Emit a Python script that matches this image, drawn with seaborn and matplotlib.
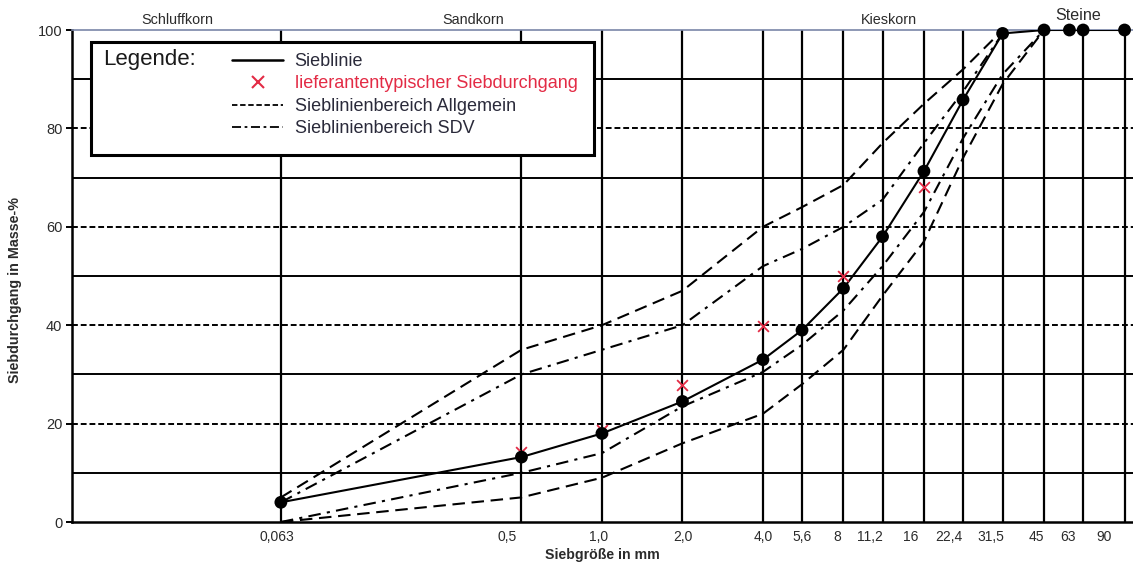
import matplotlib
matplotlib.use("Agg")
import matplotlib.pyplot as plt
import matplotlib.transforms as mtransforms
from matplotlib.lines import Line2D
from matplotlib.patches import Rectangle
import seaborn as sns
import pandas as pd

# ---------------- data ----------------
sieve_ticks = [0.063, 0.5, 1.0, 2.0, 4.0, 5.6, 8, 11.2, 16, 22.4, 31.5, 45, 63, 90]
tick_labels = ["0,063", "0,5", "1,0", "2,0", "4,0", "5,6", "8", "11,2", "16", "22,4",
               "31,5", "45", "63", "90"]

sieblinie_x = [0.063, 0.5, 1.0, 2.0, 4.0, 5.6, 8, 11.2, 16, 22.4, 31.5, 45, 56, 63, 90]
sieblinie_y = [4.0, 13.2, 18.0, 24.5, 33.0, 39.0, 47.5, 58.0, 71.3, 85.8, 99.3, 100, 100, 100, 100]

liefer_x = [0.5, 1.0, 2.0, 4.0, 8, 16]
liefer_y = [14.3, 18.7, 27.8, 39.9, 49.9, 68.0]

allg_oben_x = [0.063, 0.5, 1.0, 2.0, 4.0, 5.6, 8, 11.2, 16, 22.4, 31.5]
allg_oben_y = [5.0, 35.0, 40.0, 47.0, 60.0, 64.0, 68.5, 77.0, 85.0, 92.0, 100.0]
allg_unten_x = [0.063, 0.5, 1.0, 2.0, 4.0, 5.6, 8, 11.2, 16, 22.4, 31.5, 45]
allg_unten_y = [0.0, 5.0, 9.0, 16.0, 22.0, 28.0, 35.0, 46.0, 57.0, 74.0, 89.0, 100.0]

sdv_oben_x = [0.063, 0.5, 1.0, 2.0, 4.0, 5.6, 8, 11.2, 16, 22.4, 31.5]
sdv_oben_y = [4.0, 30.0, 35.0, 40.0, 52.0, 55.5, 60.0, 65.5, 77.0, 87.5, 99.3]
sdv_unten_x = [0.063, 0.5, 1.0, 2.0, 4.0, 5.6, 8, 11.2, 16, 22.4, 31.5, 45]
sdv_unten_y = [0.0, 10.0, 14.0, 23.5, 30.5, 36.0, 43.0, 52.0, 63.0, 78.0, 91.0, 100.0]

y_ticks = [0, 20, 40, 60, 80, 100]
grid_solid = [10, 30, 50, 70, 90]
grid_dashed = [20, 40, 60, 80]

legend_labels = ["Sieblinie", "lieferantentypischer Siebdurchgang",
                 "Sieblinienbereich Allgemein", "Sieblinienbereich SDV"]

# label shifts (pixels) to mimic the original label placement
label_shift_px = [-4, -14, -3, 0, 0, 0, -6, -13, -13, -14, -12, -8, -15, -20]

# ---------------- style ----------------
sns.set_theme(style="white")
plt.rcParams["font.family"] = ["Liberation Sans", "DejaVu Sans"]

W, H = 1133, 565
fig = plt.figure(figsize=(W / 100, H / 100), dpi=100)
ax = fig.add_axes([72 / W, (H - 522) / H, (W - 72) / W, 492 / H])

RED = "#e32b45"
TXT = "#2b2b2b"
DASH = (0, (6, 3.2))
DASHDOT = (0, (6, 3, 1.5, 3))

ax.set_xscale("log")
ax.set_xlim(0.01043, 96.8)
ax.set_ylim(0, 100)

# grid
for v in grid_solid:
    ax.axhline(v, color="black", lw=1.4, zorder=1)
for v in grid_dashed:
    ax.axhline(v, color="black", lw=1.4, ls=(0, (3, 1.5)), zorder=1)
for v in sieve_ticks:
    ax.axvline(v, color="black", lw=1.6, zorder=1)

# curves
def curve(xs, ys, ls):
    df = pd.DataFrame({"x": xs, "y": ys})
    sns.lineplot(data=df, x="x", y="y", ax=ax, color="black", lw=1.5,
                 linestyle=ls, sort=False, estimator=None, zorder=3)

curve(allg_oben_x, allg_oben_y, DASH)
curve(allg_unten_x, allg_unten_y, DASH)
curve(sdv_oben_x, sdv_oben_y, DASHDOT)
curve(sdv_unten_x, sdv_unten_y, DASHDOT)
curve(sieblinie_x, sieblinie_y, "-")

df_l = pd.DataFrame({"x": liefer_x, "y": liefer_y})
sns.scatterplot(data=df_l, x="x", y="y", ax=ax, marker="x", color=RED, s=60,
                linewidth=1.3, zorder=4)
df_s = pd.DataFrame({"x": sieblinie_x, "y": sieblinie_y})
sns.scatterplot(data=df_s, x="x", y="y", ax=ax, marker="o", color="black", s=85,
                edgecolor="none", zorder=5, clip_on=False)

# axes styling
ax.set_xlabel("")
ax.set_ylabel("")
ax.minorticks_off()
ax.set_xticks(sieve_ticks)
ax.set_xticklabels(tick_labels, fontsize=10, color=TXT)
ax.tick_params(axis="x", length=0, pad=6)
ax.set_yticks(y_ticks)
ax.set_yticklabels([str(v) for v in y_ticks], fontsize=10.5, color=TXT)
ax.tick_params(axis="y", length=4, width=1.4, color="black", pad=3, left=True)
for lab, dx in zip(ax.get_xticklabels(), label_shift_px):
    lab.set_transform(lab.get_transform() +
                      mtransforms.ScaledTranslation(dx / 100, 0, fig.dpi_scale_trans))

ax.spines["right"].set_visible(False)
ax.spines["left"].set_color("black")
ax.spines["left"].set_linewidth(1.8)
ax.spines["bottom"].set_color("black")
ax.spines["bottom"].set_linewidth(1.8)
ax.spines["top"].set_color("#7a86a8")
ax.spines["top"].set_linewidth(1.2)
ax.spines["top"].set_linestyle((0, (1, 1)))

# axis titles
fig.text(602 / W, 1 - 555 / H, "Siebgröße in mm", ha="center", va="center",
         fontsize=10.2, fontweight="bold", color=TXT)
fig.text(15 / W, 1 - 290 / H, "Siebdurchgang in Masse-%", ha="center", va="center",
         rotation=90, fontsize=10.3, fontweight="bold", color=TXT)

# fraction labels on top
for txt, px, py, fs in [("Schluffkorn", 177, 20, 10.4), ("Sandkorn", 473, 20, 10.4),
                        ("Kieskorn", 889, 20, 10.4), ("Steine", 1078, 15, 11.6)]:
    fig.text(px / W, 1 - py / H, txt, ha="center", va="center", fontsize=fs, color=TXT)

# legend box
box = Rectangle((91 / W, 1 - 155 / H), (594 - 91) / W, (155 - 42) / H,
                transform=fig.transFigure, facecolor="white", edgecolor="black",
                lw=2.2, zorder=4)
fig.add_artist(box)
fig.text(103 / W, 1 - 59 / H, "Legende:", ha="left", va="center", fontsize=16,
         color="#1a1a1a", zorder=6)

handles = [
    Line2D([], [], color="black", lw=1.8, ls="-"),
    Line2D([], [], color=RED, marker="x", ls="none", markersize=8, mew=1.5),
    Line2D([], [], color="black", lw=1.3, ls=(0, (3, 1.5))),
    Line2D([], [], color="black", lw=1.3, ls=(0, (5, 2, 1.5, 2))),
]
leg = fig.legend(handles, legend_labels, loc="upper left",
                 bbox_to_anchor=(232 / W, 1 - 53 / H), frameon=False,
                 fontsize=13, handlelength=2.85, handletextpad=0.62,
                 labelspacing=0.3, borderpad=0, borderaxespad=0)
leg.set_zorder(6)
for i, t in enumerate(leg.get_texts()):
    t.set_color(RED if i == 1 else "#2a2a3a")

fig.savefig("out.png", dpi=100)
